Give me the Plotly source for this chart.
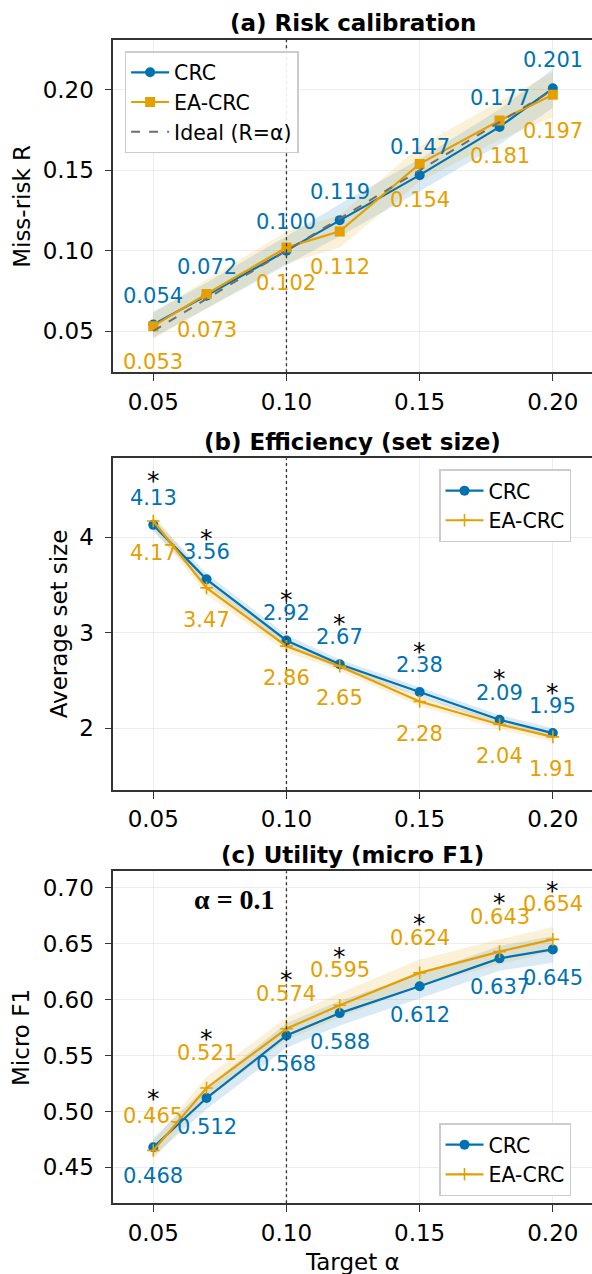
import plotly.graph_objects as go

# ---------------- data ----------------
alpha = [0.05, 0.07, 0.10, 0.12, 0.15, 0.18, 0.20]
x_ticks = [0.05, 0.10, 0.15, 0.20]

risk_crc = [0.054, 0.072, 0.100, 0.119, 0.147, 0.177, 0.201]
risk_ea = [0.053, 0.073, 0.102, 0.112, 0.154, 0.181, 0.197]
risk_crc_err = [0.008, 0.008, 0.009, 0.010, 0.010, 0.011, 0.012]
risk_ea_err = [0.008, 0.009, 0.010, 0.010, 0.011, 0.012, 0.014]
risk_ticks = [0.05, 0.10, 0.15, 0.20]

size_crc = [4.13, 3.56, 2.92, 2.67, 2.38, 2.09, 1.95]
size_ea = [4.17, 3.47, 2.86, 2.65, 2.28, 2.04, 1.91]
size_crc_err = [0.07, 0.06, 0.06, 0.05, 0.05, 0.05, 0.05]
size_ea_err = [0.08, 0.07, 0.06, 0.05, 0.05, 0.05, 0.05]
size_ticks = [2, 3, 4]

f1_crc = [0.468, 0.512, 0.568, 0.588, 0.612, 0.637, 0.645]
f1_ea = [0.465, 0.521, 0.574, 0.595, 0.624, 0.643, 0.654]
f1_crc_err = [0.008, 0.010, 0.011, 0.011, 0.011, 0.011, 0.012]
f1_ea_err = [0.008, 0.010, 0.010, 0.011, 0.012, 0.011, 0.011]
f1_ticks = [0.45, 0.50, 0.55, 0.60, 0.65, 0.70]

# ---------------- style ----------------
W, H = 592, 1274
BLUE = "#0072B2"
ORANGE = "#E69F00"
BLUE_FILL = "rgba(0,114,178,0.15)"
ORANGE_FILL = "rgba(230,159,0,0.15)"
FONT = "DejaVu Sans"
TICK_SIZE = 23
LABEL_SIZE = 21
LEG_SIZE = 20.5

left_px = 113.3
panels = [  # (top px, bottom px)
    (40.0, 372.3),
    (458.3, 790.0),
    (871.3, 1203.3),
]
yranges = [[0.0243, 0.2311], [1.354, 4.827], [0.4178, 0.7149]]
xrange_ = [0.035, 0.2147]


def ydom(top, bot):
    return [(H - bot) / H, (H - top) / H]


fig = go.Figure()


def band(xax, yax, y, err, color):
    up = [a + b for a, b in zip(y, err)]
    lo = [a - b for a, b in zip(y, err)]
    fig.add_trace(go.Scatter(
        x=alpha + alpha[::-1], y=up + lo[::-1], fill="toself",
        fillcolor=color, line=dict(width=0), mode="lines",
        hoverinfo="skip", showlegend=False, xaxis=xax, yaxis=yax))


def line(xax, yax, y, name, color, symbol, msize, legend, rank):
    marker = dict(symbol=symbol, size=msize, color=color)
    if symbol == "cross-thin":
        marker["line"] = dict(width=1.6, color=color)
    fig.add_trace(go.Scatter(
        x=alpha, y=y, name=name, mode="lines+markers",
        line=dict(color=color, width=2.2), marker=marker,
        xaxis=xax, yaxis=yax, legend=legend, legendrank=rank))


# panel a
band("x", "y", risk_crc, risk_crc_err, BLUE_FILL)
band("x", "y", risk_ea, risk_ea_err, ORANGE_FILL)
line("x", "y", risk_crc, "CRC", BLUE, "circle", 10, "legend", 1)
line("x", "y", risk_ea, "EA-CRC", ORANGE, "square", 10, "legend", 2)
fig.add_trace(go.Scatter(
    x=[alpha[0], alpha[-1]], y=[alpha[0], alpha[-1]], mode="lines",
    name="Ideal (R=α)", line=dict(color="#6e6e6e", width=2, dash="dash"),
    xaxis="x", yaxis="y", legend="legend", legendrank=3))

# panel b
band("x2", "y2", size_crc, size_crc_err, BLUE_FILL)
band("x2", "y2", size_ea, size_ea_err, ORANGE_FILL)
line("x2", "y2", size_crc, "CRC", BLUE, "circle", 10, "legend2", 1)
line("x2", "y2", size_ea, "EA-CRC", ORANGE, "cross-thin", 9, "legend2", 2)

# panel c
band("x3", "y3", f1_crc, f1_crc_err, BLUE_FILL)
band("x3", "y3", f1_ea, f1_ea_err, ORANGE_FILL)
line("x3", "y3", f1_crc, "CRC", BLUE, "circle", 10, "legend3", 1)
line("x3", "y3", f1_ea, "EA-CRC", ORANGE, "cross-thin", 9, "legend3", 2)

annotations = []


def labels(xr, yr, y, fmt, color, shift):
    for a, v in zip(alpha, y):
        annotations.append(dict(
            x=a, y=v, xref=xr, yref=yr, text=fmt.format(v), showarrow=False,
            yshift=shift, font=dict(family=FONT, size=LABEL_SIZE, color=color)))


def stars(xr, yr, y1, y2, shift):
    for a, v1, v2 in zip(alpha, y1, y2):
        annotations.append(dict(
            x=a, y=max(v1, v2), xref=xr, yref=yr, text="*", showarrow=False,
            yshift=shift, font=dict(family=FONT, size=25, color="black")))


labels("x", "y", risk_crc, "{:.3f}", BLUE, 28.5)
labels("x", "y", risk_ea, "{:.3f}", ORANGE, -36)
labels("x2", "y2", size_crc, "{:.2f}", BLUE, 27)
labels("x2", "y2", size_ea, "{:.2f}", ORANGE, -32)
stars("x2", "y2", size_crc, size_ea, 41)
labels("x3", "y3", f1_ea, "{:.3f}", ORANGE, 35)
labels("x3", "y3", f1_crc, "{:.3f}", BLUE, -28.5)
stars("x3", "y3", f1_crc, f1_ea, 49)

# titles
titles = ["<b>(a) Risk calibration</b>", "<b>(b) Efficiency (set size)</b>",
          "<b>(c) Utility (micro F1)</b>"]
title_y = [22.7, 441.7, 855.0]
for t, ty in zip(titles, title_y):
    annotations.append(dict(
        x=(left_px + W) / 2 / W, y=(H - ty) / H, xref="paper", yref="paper",
        text=t, showarrow=False, xanchor="center", yanchor="middle",
        font=dict(family=FONT, size=TICK_SIZE, color="black")))

# y axis titles
ytitles = ["Miss-risk R", "Average set size", "Micro F1"]
ytitle_x = [21.7, 59.2, 21.7]
for t, tx, (top, bot) in zip(ytitles, ytitle_x, panels):
    annotations.append(dict(
        x=tx / W, y=(H - (top + bot) / 2) / H, xref="paper", yref="paper",
        text=t, showarrow=False, textangle=-90, xanchor="center",
        yanchor="middle", font=dict(family=FONT, size=TICK_SIZE, color="black")))

# x axis title
annotations.append(dict(
    x=(left_px + W) / 2 / W, y=(H - 1261.7) / H, xref="paper", yref="paper",
    text="Target α", showarrow=False, xanchor="center", yanchor="middle",
    font=dict(family=FONT, size=TICK_SIZE, color="black")))

# alpha = 0.1 note
annotations.append(dict(
    x=234.5 / W, y=(H - 899) / H, xref="paper", yref="paper",
    text="<b>α = 0.1</b>", showarrow=False, xanchor="center", yanchor="middle",
    font=dict(family="Liberation Serif", size=28, color="black")))

# vertical dotted reference lines
shapes = []
for xr, yr in [("x", "y domain"), ("x2", "y2 domain"), ("x3", "y3 domain")]:
    shapes.append(dict(type="line", x0=0.10, x1=0.10, y0=0, y1=1,
                       xref=xr, yref=yr,
                       line=dict(color="#333333", width=1.3, dash="dot"),
                       layer="above"))

axis_common = dict(
    showline=True, linecolor="#333333", linewidth=1.6,
    ticks="outside", ticklen=7, tickwidth=1.4, tickcolor="#333333",
    showgrid=True, gridcolor="rgba(0,0,0,0.07)", gridwidth=1,
    zeroline=False,
    tickfont=dict(family=FONT, size=TICK_SIZE, color="black"),
)

layout = dict(
    width=W, height=H, margin=dict(l=0, r=0, t=0, b=0),
    paper_bgcolor="white", plot_bgcolor="white",
    font=dict(family=FONT, color="black"),
    annotations=annotations, shapes=shapes,
)

ticktexts = [["0.05", "0.10", "0.15", "0.20"]] * 3
yticks = [risk_ticks, size_ticks, f1_ticks]
yfmt = ["{:.2f}", "{:d}", "{:.2f}"]
for i, ((top, bot), yr) in enumerate(zip(panels, yranges)):
    suf = "" if i == 0 else str(i + 1)
    layout["xaxis" + suf] = dict(
        axis_common, domain=[left_px / W, 1.0], range=xrange_,
        tickvals=x_ticks, ticktext=ticktexts[i], mirror=True,
        anchor="y" + suf, ticklabelstandoff=1)
    layout["yaxis" + suf] = dict(
        axis_common, domain=ydom(top, bot), range=yr,
        tickvals=yticks[i], ticktext=[yfmt[i].format(v) for v in yticks[i]],
        mirror=False, anchor="x" + suf, ticklabelstandoff=6)

leg_common = dict(
    bgcolor="rgba(255,255,255,0.9)", bordercolor="#cccccc", borderwidth=1.5,
    font=dict(family=FONT, size=LEG_SIZE, color="black"),
    xanchor="left", yanchor="top", tracegroupgap=0, itemwidth=38,
)
layout["legend"] = dict(leg_common, x=124.6 / W, y=(H - 51) / H)
layout["legend2"] = dict(leg_common, x=439 / W, y=(H - 469.3) / H)
layout["legend3"] = dict(leg_common, x=439 / W, y=(H - 1123.3) / H)

fig.update_layout(**layout)
fig.write_html(
    "out.html",
    config={"displayModeBar": False},
    post_script="document.body.style.margin='0';"
                "document.body.style.overflow='hidden';",
)
